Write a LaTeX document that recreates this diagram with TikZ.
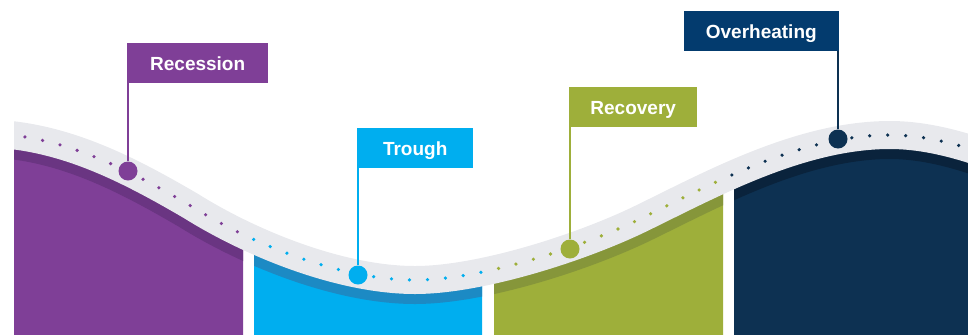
\documentclass[tikz,border=0pt]{standalone}
\usepackage{fontspec}
\setmainfont{Liberation Sans}
\definecolor{recess}{HTML}{7F3F97}
\definecolor{recessdark}{HTML}{6A3582}
\definecolor{trough}{HTML}{00AEEF}
\definecolor{troughdark}{HTML}{1C8AC4}
\definecolor{recov}{HTML}{9EAF3A}
\definecolor{recovdark}{HTML}{86963A}
\definecolor{heat}{HTML}{0D3152}
\definecolor{heatdark}{HTML}{0A233C}
\definecolor{heatbox}{HTML}{033B6E}
\definecolor{bandgray}{HTML}{E8E9ED}
\tikzset{
  flag/.style={text=white,font=\fontsize{19}{22}\selectfont\bfseries,
    minimum height=40pt,text height=13.6pt,text depth=0pt,inner sep=0pt},
  pole/.style={line width=2.2pt},
  marker/.style={circle,minimum size=19pt,inner sep=0pt},
  dots/.style={line width=3.6pt,line cap=round,dash pattern=on 0pt off 18pt,dash phase=10.9pt},
  band/.style={draw=bandgray,line width=28pt},
  strip/.style={line width=48pt}
}
\newcommand\wave{(0,134) .. controls (70,139) and (131,171) .. (191,206)
  .. controls (250,243) and (340,280) .. (415,280)
  .. controls (480,280) and (580,248) .. (640,219)
  .. controls (710,185) and (800,135) .. (890,135)
  .. controls (920,135) and (950,142) .. (980,152)}

\begin{document}
\begin{tikzpicture}[x=1pt,y=-1pt]
\useasboundingbox (0,0) rectangle (968,335);
% blocks
\begin{scope}
\clip (14,0) rectangle (243,335);
\clip \wave -- (1000,400) -- (-20,400) -- cycle;
\fill[recess] (0,0) rectangle (968,335); % Recession block
\draw[strip,recessdark] \wave;
\end{scope}
\begin{scope}
\clip (254,0) rectangle (482,335);
\clip \wave -- (1000,400) -- (-20,400) -- cycle;
\fill[trough] (0,0) rectangle (968,335); % Trough block
\draw[strip,troughdark] \wave;
\end{scope}
\begin{scope}
\clip (494,0) rectangle (723,335);
\clip \wave -- (1000,400) -- (-20,400) -- cycle;
\fill[recov] (0,0) rectangle (968,335); % Recovery block
\draw[strip,recovdark] \wave;
\end{scope}
\begin{scope}
\clip (734,0) rectangle (968,335);
\clip \wave -- (1000,400) -- (-20,400) -- cycle;
\fill[heat] (0,0) rectangle (968,335); % Overheating block
\draw[strip,heatdark] \wave;
\end{scope}
% band
\begin{scope}
\clip (14,0) rectangle (968,335);
\draw[band] \wave;
\end{scope}
% dots
\begin{scope}
\clip (14,0) rectangle (248,335);
\draw[dots,recess] \wave;
\end{scope}
\begin{scope}
\clip (248,0) rectangle (488,335);
\draw[dots,trough] \wave;
\end{scope}
\begin{scope}
\clip (488,0) rectangle (728,335);
\draw[dots,recov] \wave;
\end{scope}
\begin{scope}
\clip (728,0) rectangle (968,335);
\draw[dots,heat] \wave;
\end{scope}
% flags
\node[flag,fill=recess,minimum width=141pt,anchor=north west] (rec) at (127,43) {Recession};
\node[flag,fill=trough,minimum width=116pt,anchor=north west] (tro) at (357,128) {Trough};
\node[flag,fill=recov,minimum width=128pt,anchor=north west] (rcv) at (569,87) {Recovery};
\node[flag,fill=heatbox,minimum width=155pt,anchor=north east] (ovh) at (839,11) {Overheating};
% markers
\node[marker,fill=recess] (m1) at (128,171) {};
\node[marker,fill=trough] (m2) at (358,275) {};
\node[marker,fill=recov] (m3) at (570,249) {};
\node[marker,fill=heat] (m4) at (838,139) {};
% poles
\draw[pole,recess] (m1) -- (m1 |- rec.south);
\draw[pole,trough] (m2) -- (m2 |- tro.south);
\draw[pole,recov] (m3) -- (m3 |- rcv.south);
\draw[pole,heat] (m4) -- (m4 |- ovh.south);
\end{tikzpicture}
\end{document}
